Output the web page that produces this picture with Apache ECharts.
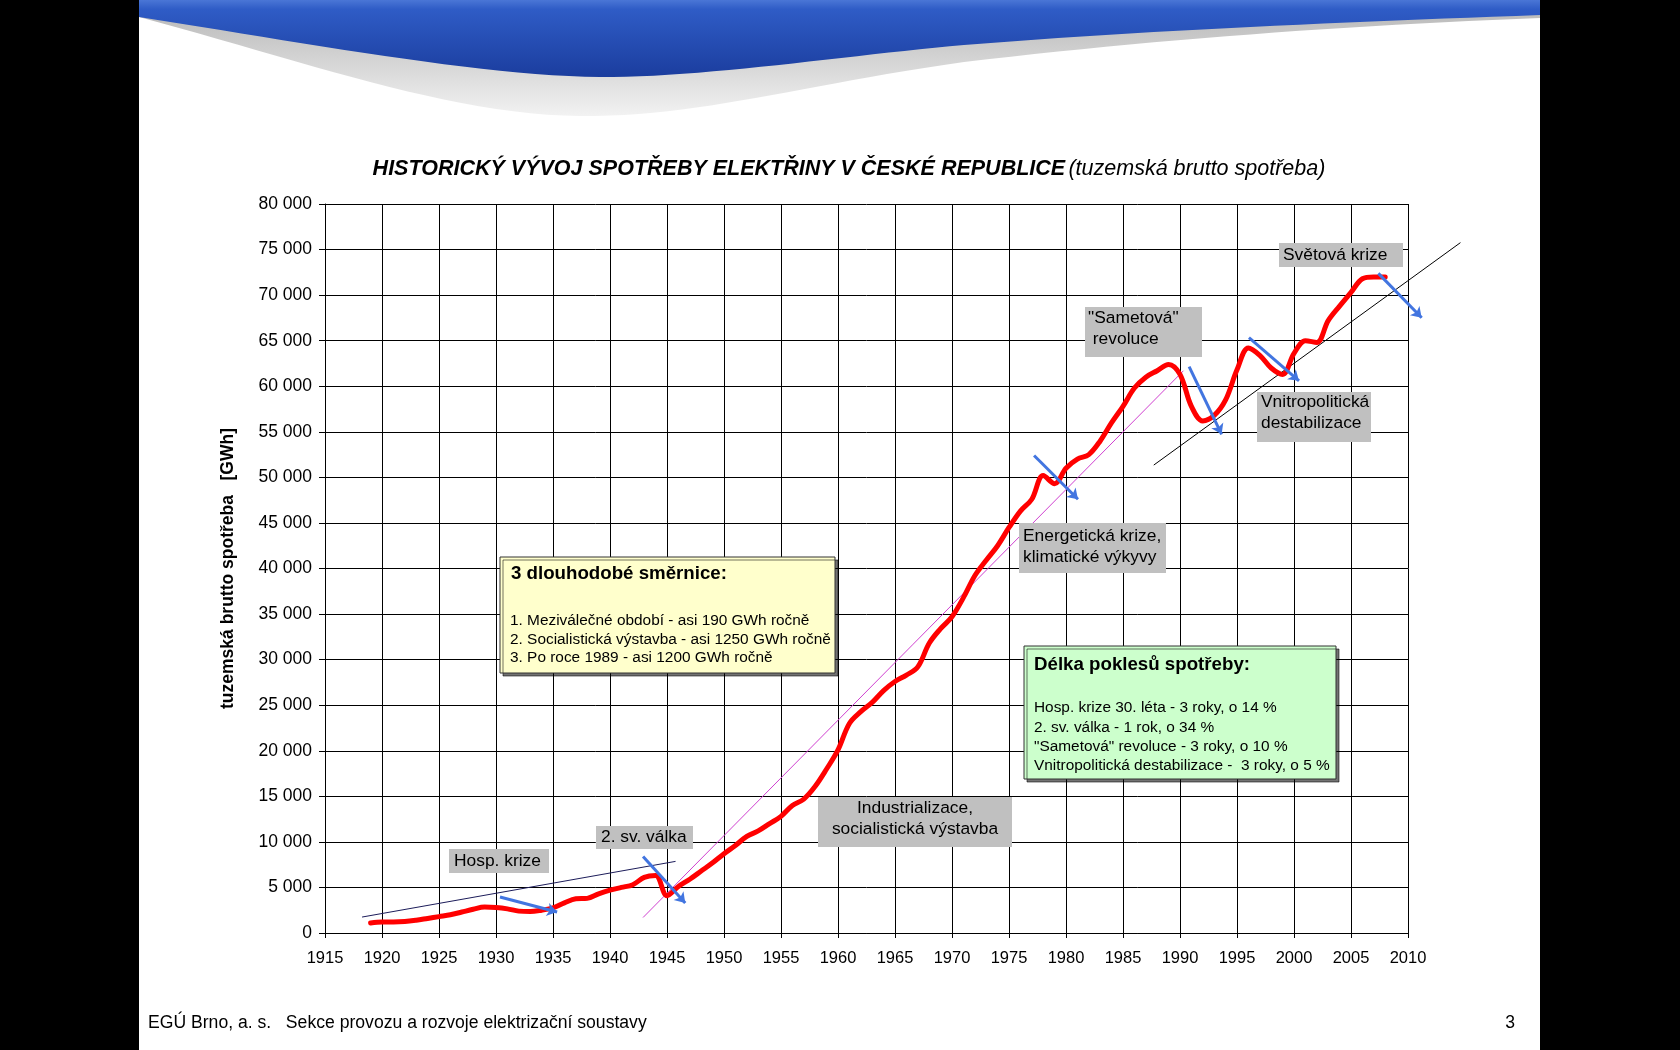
<!DOCTYPE html>
<html><head><meta charset="utf-8">
<script src="https://cdn.jsdelivr.net/npm/echarts@6/dist/echarts.min.js"></script>
<style>html,body{margin:0;padding:0;background:#000;} #c{width:1680px;height:1050px;}</style>
</head><body><div id="c"></div>
<script>
// ---- data ----
const years = [1919,1920,1921,1922,1923,1924,1925,1926,1927,1928,1929,1930,1931,1932,1933,1934,1935,1936,1937,1938,1939,1940,1941,1942,1943,1944,1945,1946,1947,1948,1949,1950,1951,1952,1953,1954,1955,1956,1957,1958,1959,1960,1961,1962,1963,1964,1965,1966,1967,1968,1969,1970,1971,1972,1973,1974,1975,1976,1977,1978,1979,1980,1981,1982,1983,1984,1985,1986,1987,1988,1989,1990,1991,1992,1993,1994,1995,1996,1997,1998,1999,2000,2001,2002,2003,2004,2005,2006,2007,2008];
const consumption = [1100,1200,1200,1250,1400,1600,1800,2000,2300,2600,2850,2800,2650,2400,2350,2500,2750,3300,3750,3800,4300,4700,5000,5300,6100,6300,4100,5100,5900,6800,7700,8700,9600,10600,11200,12000,12800,14000,14700,16100,18000,20100,23000,24300,25300,26600,27600,28300,29200,31800,33400,34700,36800,39200,40900,42500,44500,46300,47600,50200,49300,51000,52000,52500,54000,56000,57800,59800,61000,61700,62400,61300,57800,56200,56800,58500,61800,64200,63400,62000,61300,63600,65000,64800,67200,68800,70300,71800,72000,72000];
// trend lines [[x1,y1],[x2,y2]]
const trendInterwar = [[1918.25, 1750], [1945.75, 7860]];
const trendSocialist = [[1942.9, 1700], [1990.3, 61700]];
const trendPost1989 = [[1987.7, 51350], [2014.6, 75760]];
// drop arrows
const dropArrows = [
  [[1930.35, 3950], [1935.36, 2300]],
  [[1942.9, 8400], [1946.6, 3290]],
  [[1977.2, 52400], [1981.05, 47600]],
  [[1990.8, 62150], [1993.65, 54720]],
  [[1996.05, 65330], [2000.44, 60600]],
  [[2007.4, 72390], [2011.2, 67520]]
];
const xMin = 1915, xMax = 2010, xStep = 5;
const yMin = 0, yMax = 80000, yStep = 5000;

const titleMain = 'HISTORICKÝ VÝVOJ SPOTŘEBY ELEKTŘINY V ČESKÉ REPUBLICE';
const titleSub = '(tuzemská brutto spotřeba)';
const yName = 'tuzemská brutto spotřeba   [GWh]';
const yellowTitle = '3 dlouhodobé směrnice:';
const yellowLines = ['1. Meziválečné období - asi 190 GWh ročně','2. Socialistická výstavba - asi 1250 GWh ročně','3. Po roce 1989 - asi 1200 GWh ročně'];
const greenTitle = 'Délka poklesů spotřeby:';
const greenLines = ['Hosp. krize 30. léta - 3 roky, o 14 %','2. sv. válka - 1 rok, o 34 %','"Sametová" revoluce - 3 roky, o 10 %','Vnitropolitická destabilizace -  3 roky, o 5 %'];
const footerText = 'EGÚ Brno, a. s.   Sekce provozu a rozvoje elektrizační soustavy';

// ---- chart ----
const FF = 'Liberation Sans, Arial, sans-serif';
const chart = echarts.init(document.getElementById('c'), null, {renderer: 'canvas'});

function grad(stops) {
  return {type: 'linear', x: 0, y: 0, x2: 0, y2: 1, colorStops: stops.map(s => ({offset: s[0], color: s[1]}))};
}
// header wave outline from cubic segments (decorative slide background)
function wave(start, segs) {
  const pts = [start];
  let p0 = start;
  segs.forEach(s => {
    for (let i = 1; i <= 24; i++) {
      const t = i / 24, u = 1 - t;
      pts.push([
        u*u*u*p0[0] + 3*u*u*t*s[0][0] + 3*u*t*t*s[1][0] + t*t*t*s[2][0],
        u*u*u*p0[1] + 3*u*u*t*s[0][1] + 3*u*t*t*s[1][1] + t*t*t*s[2][1]
      ]);
    }
    p0 = s[2];
  });
  pts.push([1540, 0], [139, 0]);
  return pts;
}
const shadowPts = wave([139, 17], [[[300,60],[450,115],[580,116]], [[700,117],[800,85],[964,62]], [[1150,40],[1350,25],[1540,18]]]);
const bluePts = wave([139, 17], [[[300,42],[480,76],[600,77]], [[700,78],[850,55],[964,45]], [[1150,30],[1350,22],[1540,15]]]);

function rect(x, y, w, h, style) {
  return {type: 'rect', z: 100, shape: {x: x, y: y, width: w, height: h}, style: style};
}
function txt(x, y, text, size, opts) {
  opts = opts || {};
  return {type: 'text', z: 101, style: {
    text: text, x: x, y: y, fill: '#000',
    font: (opts.weight || 'normal') + ' ' + size + 'px ' + FF,
    align: opts.align || 'left', verticalAlign: 'middle',
    lineHeight: opts.lh || Math.round(size * 1.25)
  }};
}
function greyLabel(x, y, w, h, text, tx, ty, align, lh) {
  return [rect(x, y, w, h, {fill: '#c0c0c0'}), txt(tx, ty, text, 17.4, {align: align || 'left', lh: lh || 21})];
}
const boxStyle = fill => ({fill: fill, stroke: '#333', lineWidth: 1, shadowColor: 'rgba(0,0,0,0.55)', shadowOffsetX: 3, shadowOffsetY: 3, shadowBlur: 0});

const graphics = [
  {type: 'rect', z: -10, silent: true, shape: {x: 139, y: 0, width: 1401, height: 1050}, style: {fill: '#fff'}},
  {type: 'polygon', z: -9, silent: true, shape: {points: shadowPts}, style: {fill: grad([[0, '#b4b4b4'], [1, '#f2f2f2']])}},
  {type: 'polygon', z: -8, silent: true, shape: {points: bluePts}, style: {fill: grad([[0, '#4a76d6'], [0.12, '#2f5cc6'], [1, '#1b3d9e']])}},
  {type: 'text', z: 101, style: {
    text: '{a|' + titleMain + '} {b|' + titleSub + '}', x: 849, y: 169, align: 'center', verticalAlign: 'middle',
    rich: {a: {fontStyle: 'italic', fontWeight: 'bold', fontSize: 21.5, fontFamily: FF, color: '#000'},
           b: {fontStyle: 'italic', fontSize: 21.5, fontFamily: FF, color: '#000'}}
  }},
  rect(500, 557, 335, 116, boxStyle('#ffffcc')),
  txt(511, 574, yellowTitle, 18.7, {weight: 'bold'}),
  txt(510, 639.3, yellowLines.join('\n'), 15.4, {lh: 18.3}),
  rect(1024, 646, 312, 133, boxStyle('#ccffcc')),
  txt(1034, 665, greenTitle, 18.7, {weight: 'bold'}),
  txt(1034, 737, greenLines.join('\n'), 15.4, {lh: 19.4}),
  txt(148, 1023, footerText, 17.6),
  txt(1515, 1023, '3', 17.6, {align: 'right'})
].concat(
  greyLabel(449, 849, 100, 24, 'Hosp. krize', 454, 861),
  greyLabel(596, 826, 97, 23, '2. sv. válka', 601, 837.5),
  greyLabel(818, 797, 194, 50, 'Industrializace,\nsocialistická výstavba', 915, 818.5, 'center'),
  greyLabel(1019, 523, 147, 50, 'Energetická krize,\nklimatické výkyvy', 1023, 547),
  greyLabel(1085, 307, 117, 50, '"Sametová"\n revoluce', 1088, 329),
  greyLabel(1257, 392, 114, 50, 'Vnitropolitická\ndestabilizace', 1261, 413),
  greyLabel(1279, 243, 124, 24, 'Světová krize', 1283, 255)
);

function thinLine(name, coords, color) {
  return {type: 'lines', name: name, coordinateSystem: 'cartesian2d', clip: false, silent: true, z: 3,
    lineStyle: {color: color, width: 1, opacity: 1}, data: [{coords: coords}]};
}

const option = {
  backgroundColor: '#000',
  animation: false,
  grid: {left: 325, top: 204, width: 1083, height: 729, containLabel: false},
  xAxis: {type: 'value', min: xMin, max: xMax, interval: xStep,
    axisLine: {show: true, onZero: false, lineStyle: {color: '#000', width: 1}},
    axisTick: {show: true, length: 5, lineStyle: {color: '#000'}},
    axisLabel: {color: '#000', fontSize: 16.5, fontFamily: FF, margin: 17, formatter: v => String(v)},
    splitLine: {show: true, lineStyle: {color: '#000', width: 1}}
  },
  yAxis: {type: 'value', min: yMin, max: yMax, interval: yStep,
    name: yName, nameLocation: 'middle', nameGap: 88,
    nameTextStyle: {color: '#000', fontSize: 17.5, fontWeight: 'bold', fontFamily: FF},
    axisLine: {show: true, lineStyle: {color: '#000', width: 1}},
    axisTick: {show: true, length: 6, lineStyle: {color: '#000'}},
    axisLabel: {color: '#000', fontSize: 17.5, fontFamily: FF, margin: 13,
      formatter: v => String(v).replace(/\B(?=(\d{3})+(?!\d))/g, ' ')},
    splitLine: {show: true, lineStyle: {color: '#000', width: 1}}
  },
  graphic: graphics,
  series: [
    thinLine('trend1', trendInterwar, '#1c1c5a'),
    thinLine('trend2', trendSocialist, '#d040d0'),
    thinLine('trend3', trendPost1989, '#000'),
    {type: 'line', name: 'spotřeba', z: 5, showSymbol: false, smooth: 0.35, silent: true,
      lineStyle: {color: '#ff0000', width: 5, cap: 'round', join: 'round'},
      data: years.map((y, i) => [y, consumption[i]])},
    {type: 'lines', name: 'arrows', coordinateSystem: 'cartesian2d', clip: false, silent: true, z: 8,
      symbol: ['none', 'arrow'], symbolSize: 10,
      lineStyle: {color: '#4275e0', width: 3, opacity: 1},
      data: dropArrows.map(c => ({coords: c}))}
  ]
};
chart.setOption(option);
</script></body></html>
